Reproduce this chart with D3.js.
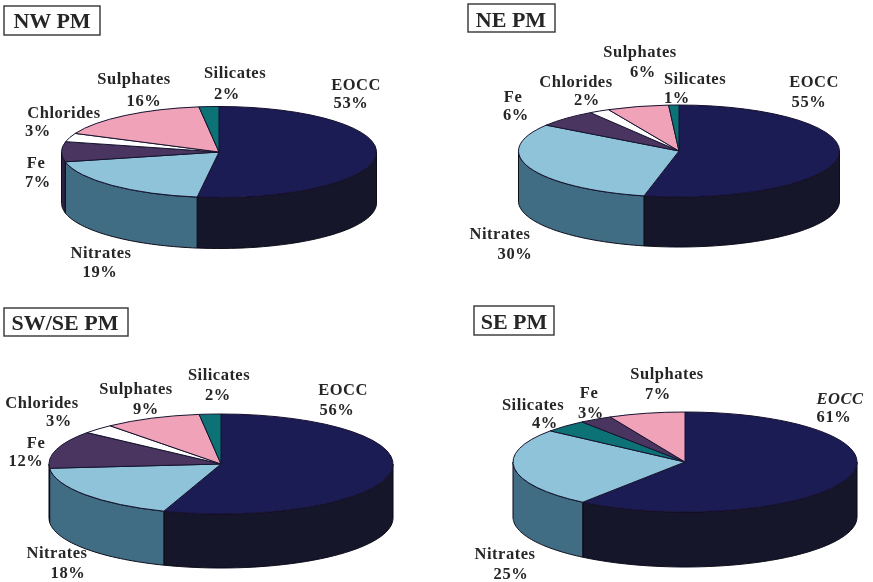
<!DOCTYPE html>
<html><head><meta charset="utf-8">
<script src="https://cdnjs.cloudflare.com/ajax/libs/d3/7.8.5/d3.min.js"></script>
<style>html,body{margin:0;padding:0;background:#fff}svg{display:block}
text{font-family:"Liberation Serif",serif;font-weight:bold;fill:#262626}</style>
</head><body><svg id="c" width="873" height="582"></svg>
<script>
// ---- data ----
const titles = ["NW PM", "NE PM", "SW/SE PM", "SE PM"];
const catsNW = ["EOCC", "Nitrates", "Fe", "Chlorides", "Sulphates", "Silicates"];
const catsNE = ["EOCC", "Nitrates", "Fe", "Chlorides", "Sulphates", "Silicates"];
const catsSW = ["EOCC", "Nitrates", "Fe", "Chlorides", "Sulphates", "Silicates"];
const catsSE = ["EOCC", "Nitrates", "Silicates", "Fe", "Sulphates"];
const valsNW = [53, 19, 7, 3, 16, 2];
const valsNE = [55, 30, 6, 2, 6, 1];
const valsSW = [56, 18, 12, 3, 9, 2];
const valsSE = [61, 25, 4, 3, 7];

// ---- styling / layout (separate from the data) ----
const topColor = {EOCC:"#1f1a55", Nitrates:"#8ec3da", Fe:"#4a3560", Chlorides:"#ffffff", Sulphates:"#f0a2b9", Silicates:"#0f7276"};
const sideColor = {EOCC:"#15132c", Nitrates:"#3f6c84", Fe:"#2e2340", Chlorides:"#dddddd", Sulphates:"#a86f80", Silicates:"#0a4d50"};
const layouts = [
 {cx:219,cy:152,rx:157.5,ry:45.5,d:51,tilt:3, box:[4,6,96,29], tx:52,ty:28,
  labels:{EOCC:[356,90,351,108],Nitrates:[101,258,100,277],Fe:[36,168,38,187],Chlorides:[64,118,38,136],Sulphates:[134,84,144,106],Silicates:[235,78,227,99]}},
 {cx:679,cy:151,rx:160.5,ry:46,d:50,tilt:6, box:[468,4,87,28], tx:511,ty:27,
  labels:{EOCC:[814,87,809,107],Nitrates:[500,239,515,259],Fe:[513,102,516,120],Chlorides:[576,87,587,105],Sulphates:[640,57,643,77],Silicates:[695,84,677,103]}},
 {cx:221,cy:464,rx:172,ry:50,d:54,tilt:2.5, box:[4,308,124,28], tx:65,ty:330,
  labels:{EOCC:[343,395,337,415],Nitrates:[57,558,68,578],Fe:[36,448,26,466],Chlorides:[42,408,59,426],Sulphates:[136,394,146,414],Silicates:[219,380,218,400]}},
 {cx:685,cy:462,rx:172,ry:50,d:55,tilt:4, box:[474,306,80,29], tx:514,ty:329,
  labels:{EOCC:[840,404,834,422],Nitrates:[505,559,511,579],Fe:[589,398,591,418],Sulphates:[667,379,658,399],Silicates:[533,410,545,428]}}
];
const cats = [catsNW, catsNE, catsSW, catsSE];
const vals = [valsNW, valsNE, valsSW, valsSE];

const svg = d3.select("#c");
const defs = svg.append("defs");
defs.append("filter").attr("id","scan").attr("x","-2%").attr("y","-2%").attr("width","104%").attr("height","104%")
  .append("feGaussianBlur").attr("stdDeviation",0.4);
const root = svg.append("g").attr("filter","url(#scan)");
const pie = d3.pie().sort(null).value(d => d.v);
const line = d3.line();

cats.forEach((cs, i) => {
  const L = layouts[i];
  const rows = cs.map((c, j) => ({c, v: vals[i][j]}));
  // the drawing's slight perspective pulls the front of the disc towards the viewer
  const warp = d3.scaleLinear().domain([0, Math.PI, 2*Math.PI])
    .range([0, Math.PI - L.tilt*Math.PI/180, 2*Math.PI]);
  const arcs = pie(rows).map(a => ({...a, startAngle: warp(a.startAngle), endAngle: warp(a.endAngle)}));
  const g = root.append("g");

  const px = a => L.cx + L.rx * Math.sin(a);
  const py = a => L.cy - L.ry * Math.cos(a);
  const sides = arcs.map(a => ({a,
      s: Math.max(a.startAngle, Math.PI/2), e: Math.min(a.endAngle, 3*Math.PI/2)}))
    .filter(o => o.e > o.s);
  g.selectAll("path.side").data(sides).join("path").attr("class","side")
    .attr("d", o => {
      const as = d3.range(41).map(k => o.s + (o.e - o.s) * k / 40);
      const ptsTop = as.map(t => [px(t), py(t)]);
      const ptsBot = as.slice().reverse().map(t => [px(t), py(t) + L.d]);
      return line(ptsTop.concat(ptsBot)) + "Z";
    })
    .attr("fill", o => sideColor[o.a.data.c])
    .attr("stroke", "#0c0c18").attr("stroke-width", 1).attr("stroke-linejoin","round");

  const arc = d3.arc().innerRadius(0).outerRadius(L.rx);
  g.append("g").attr("transform", `translate(${L.cx},${L.cy}) scale(1,${L.ry/L.rx})`)
    .selectAll("path").data(arcs).join("path")
    .attr("d", arc)
    .attr("fill", a => topColor[a.data.c])
    .attr("stroke", "#15122e").attr("stroke-width", 1)
    .attr("vector-effect", "non-scaling-stroke").attr("stroke-linejoin","round");

  rows.forEach(r => {
    const p = L.labels[r.c];
    const italic = i === 3 && r.c === "EOCC";
    g.append("text").attr("x",p[0]).attr("y",p[1]).attr("text-anchor","middle")
      .attr("font-size",16.5).attr("letter-spacing",0.5).style("font-style", italic ? "italic" : null).text(r.c);
    g.append("text").attr("x",p[2]).attr("y",p[3]).attr("text-anchor","middle")
      .attr("font-size",16.5).attr("letter-spacing",0.7).text(r.v + "%");
  });

  g.append("rect").attr("x",L.box[0]).attr("y",L.box[1]).attr("width",L.box[2]).attr("height",L.box[3])
    .attr("fill","#fff").attr("stroke","#333").attr("stroke-width",1.4);
  g.append("text").attr("x",L.tx).attr("y",L.ty).attr("text-anchor","middle")
    .attr("font-size",22).text(titles[i]);
});
</script></body></html>
